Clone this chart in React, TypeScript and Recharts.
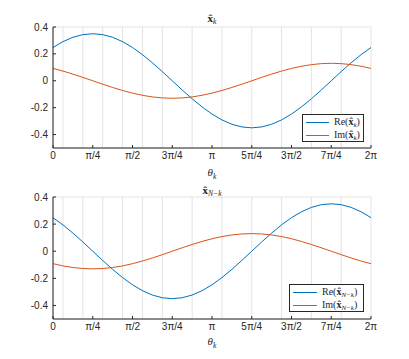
import React from 'react';
import { LineChart, Line, XAxis, YAxis, CartesianGrid } from 'recharts';

const PI = Math.PI;
const xTickValues = [0, PI / 4, PI / 2, (3 * PI) / 4, PI, (5 * PI) / 4, (3 * PI) / 2, (7 * PI) / 4, 2 * PI];
const xTickLabels = ['0', 'π/4', 'π/2', '3π/4', 'π', '5π/4', '3π/2', '7π/4', '2π'];
const yTicks = [-0.4, -0.2, 0, 0.2, 0.4];

// samples at theta = k * pi / 16, k = 0..32
const reTop = [0.2475, 0.291, 0.3234, 0.3433, 0.35, 0.3433, 0.3234, 0.291, 0.2475, 0.1944, 0.1339, 0.0683, 0, -0.0683, -0.1339, -0.1944, -0.2475, -0.291, -0.3234, -0.3433, -0.35, -0.3433, -0.3234, -0.291, -0.2475, -0.1944, -0.1339, -0.0683, 0, 0.0683, 0.1339, 0.1944, 0.2475];
const imTop = [0.0919, 0.0722, 0.0497, 0.0254, 0, -0.0254, -0.0497, -0.0722, -0.0919, -0.1081, -0.1201, -0.1275, -0.13, -0.1275, -0.1201, -0.1081, -0.0919, -0.0722, -0.0497, -0.0254, 0, 0.0254, 0.0497, 0.0722, 0.0919, 0.1081, 0.1201, 0.1275, 0.13, 0.1275, 0.1201, 0.1081, 0.0919];
const reBottom = [0.2475, 0.1944, 0.1339, 0.0683, 0, -0.0683, -0.1339, -0.1944, -0.2475, -0.291, -0.3234, -0.3433, -0.35, -0.3433, -0.3234, -0.291, -0.2475, -0.1944, -0.1339, -0.0683, 0, 0.0683, 0.1339, 0.1944, 0.2475, 0.291, 0.3234, 0.3433, 0.35, 0.3433, 0.3234, 0.291, 0.2475];
const imBottom = [-0.0919, -0.1081, -0.1201, -0.1275, -0.13, -0.1275, -0.1201, -0.1081, -0.0919, -0.0722, -0.0497, -0.0254, 0, 0.0254, 0.0497, 0.0722, 0.0919, 0.1081, 0.1201, 0.1275, 0.13, 0.1275, 0.1201, 0.1081, 0.0919, 0.0722, 0.0497, 0.0254, 0, -0.0254, -0.0497, -0.0722, -0.0919];

const BLUE = '#0072BD';
const ORANGE = '#D95319';
const AX = '#262626';
const SANS = '"Liberation Sans", Arial, Helvetica, sans-serif';
const SERIF = '"Liberation Serif", "DejaVu Serif", serif';

const makeRows = (re: number[], im: number[]) =>
  re.map((r, i) => ({ theta: (i * PI) / 16, re: r, im: im[i] }));

const topRows = makeRows(reTop, imTop);
const bottomRows = makeRows(reBottom, imBottom);

const fmtX = (v: number) => {
  const idx = xTickValues.findIndex((t) => Math.abs(t - v) < 1e-6);
  return idx >= 0 ? xTickLabels[idx] : '';
};
const fmtY = (v: number) => (Math.abs(v) < 1e-9 ? '0' : String(v));

const tickStyle = { fontSize: 10, fill: AX, fontFamily: SANS };

function Panel({ rows, top, height, plotTop, plotBottom }: { rows: any[]; top: number; height: number; plotTop: number; plotBottom: number }) {
  const xAxisH = 20;
  return (
    <div style={{ position: 'absolute', left: 0, top }}>
      <LineChart
        width={409}
        height={height}
        data={rows}
        margin={{ top: plotTop, left: 8, right: 38, bottom: height - plotBottom - xAxisH }}
      >
        <CartesianGrid stroke="#e3e3e3" strokeWidth={1} />
        <XAxis
          xAxisId="b"
          dataKey="theta"
          type="number"
          domain={[0, 2 * PI]}
          ticks={xTickValues}
          tickFormatter={fmtX}
          orientation="bottom"
          height={xAxisH}
          tickSize={-3}
          tickMargin={7}
          stroke={AX}
          tick={tickStyle}
          interval={0}
          allowDataOverflow
        />
        <XAxis
          xAxisId="t"
          dataKey="theta"
          type="number"
          domain={[0, 2 * PI]}
          ticks={xTickValues}
          tickFormatter={() => ''}
          orientation="top"
          height={0}
          tickSize={-3}
          stroke={AX}
          interval={0}
        />
        <YAxis
          yAxisId="l"
          type="number"
          domain={[-0.5, 0.4]}
          ticks={yTicks}
          tickFormatter={fmtY}
          width={45}
          tickSize={-3}
          tickMargin={8}
          stroke={AX}
          tick={tickStyle}
          interval={0}
          allowDataOverflow
        />
        <YAxis
          yAxisId="r"
          orientation="right"
          type="number"
          domain={[-0.5, 0.4]}
          ticks={yTicks}
          tickFormatter={() => ''}
          width={0}
          tickSize={-3}
          stroke={AX}
          interval={0}
        />
        <Line xAxisId="b" yAxisId="l" type="linear" dataKey="re" stroke={BLUE} strokeWidth={1} dot={false} isAnimationActive={false} />
        <Line xAxisId="b" yAxisId="l" type="linear" dataKey="im" stroke={ORANGE} strokeWidth={1} dot={false} isAnimationActive={false} />
      </LineChart>
    </div>
  );
}

function XHat({ sub }: { sub: string }) {
  return (
    <span>
      <span style={{ fontWeight: 'bold' }}>x̂</span>
      <sub style={{ fontStyle: 'italic', fontSize: '0.7em', verticalAlign: '-0.25em' }}>{sub}</sub>
    </span>
  );
}

function Legend({ left, top, width, height, sub, lineLen, textLeft }: { left: number; top: number; width: number; height: number; sub: string; lineLen: number; textLeft: number }) {
  const row = (color: string, prefix: string, y: number) => (
    <div style={{ position: 'absolute', left: 0, top: y, width: '100%', height: 12 }}>
      <div style={{ position: 'absolute', left: 3, top: 6, width: lineLen, height: 0, borderTop: `1px solid ${color}` }} />
      <div style={{ position: 'absolute', left: textLeft, top: 0, fontFamily: SERIF, fontSize: 10, color: AX, whiteSpace: 'nowrap', lineHeight: '12px' }}>
        {prefix}(<XHat sub={sub} />)
      </div>
    </div>
  );
  return (
    <div
      style={{
        position: 'absolute',
        left,
        top,
        width,
        height,
        boxSizing: 'border-box',
        border: `1px solid ${AX}`,
        background: '#fff',
      }}
    >
      {row(BLUE, 'Re', 1)}
      {row(ORANGE, 'Im', 14)}
    </div>
  );
}

function Label({ x, y, children, size = 11 }: { x: number; y: number; children: any; size?: number }) {
  return (
    <div
      style={{
        position: 'absolute',
        left: x - 50,
        top: y - 8,
        width: 100,
        height: 16,
        lineHeight: '16px',
        textAlign: 'center',
        fontFamily: SERIF,
        fontSize: size,
        color: AX,
        whiteSpace: 'nowrap',
      }}
    >
      {children}
    </div>
  );
}

export default function App() {
  return (
    <div style={{ position: 'absolute', left: 0, top: 0, width: 409, height: 359, background: '#fff', overflow: 'hidden' }}>
      <Panel rows={topRows} top={0} height={175} plotTop={27} plotBottom={148} />
      <Panel rows={bottomRows} top={175} height={184} plotTop={22} plotBottom={144} />
      <Label x={212} y={18}><XHat sub="k" /></Label>
      <Label x={212} y={172}><i>θ</i><sub style={{ fontStyle: 'italic', fontSize: '0.7em' }}>k</sub></Label>
      <Label x={212} y={190}><XHat sub="N−k" /></Label>
      <Label x={212} y={341}><i>θ</i><sub style={{ fontStyle: 'italic', fontSize: '0.7em' }}>k</sub></Label>
      <Legend left={302} top={114} width={62} height={28} sub="k" lineLen={23} textLeft={31} />
      <Legend left={289} top={284} width={75} height={28} sub="N−k" lineLen={24} textLeft={32} />
    </div>
  );
}
